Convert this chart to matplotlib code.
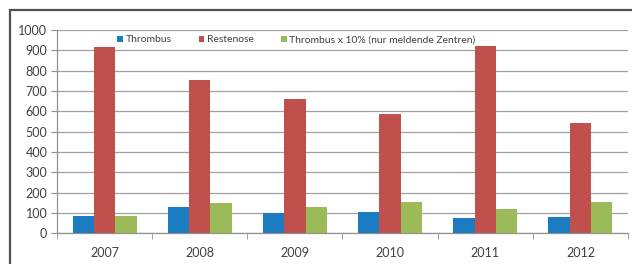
import matplotlib
matplotlib.use("Agg")
import matplotlib.pyplot as plt
import numpy as np
from matplotlib.patches import Rectangle

years = ["2007", "2008", "2009", "2010", "2011", "2012"]
thrombus = [84, 129, 101, 107, 75, 81]
restenose = [914, 752, 661, 586, 922, 543]
thrombus10 = [86, 150, 129, 153, 121, 155]
series_names = ["Thrombus", "Restenose", "Thrombus x 10% (nur meldende Zentren)"]
colors = ["#1B7CC2", "#C0504D", "#9BBB59"]

plt.rcParams['font.family'] = ['Lato', 'DejaVu Sans']

W, H = 632, 264
fig = plt.figure(figsize=(W / 100, H / 100), dpi=100)
ax = fig.add_axes([57 / W, 1 - 233.3 / H, (628 - 57) / W, (233.3 - 30) / H])

# outer frame
fig.patches.append(Rectangle((9.5 / W, -0.1), 1.2, 1 - 9.5 / H + 0.1, transform=fig.transFigure,
                             fill=False, edgecolor="#505050", linewidth=1.6, zorder=0))

x = np.arange(len(years))
bw = 0.224
for i, (vals, name, c) in enumerate(zip([thrombus, restenose, thrombus10], series_names, colors)):
    ax.bar(x + (i - 1) * bw, vals, width=bw, color=c, label=name, zorder=3)

ax.set_xlim(-0.5, len(years) - 0.5)
ax.set_ylim(0, 1000)
ax.set_yticks(range(0, 1001, 100))
ax.set_xticks(x)
ax.set_xticklabels(years)
ax.set_xticks(np.arange(-0.5, len(years), 1), minor=True)
ax.tick_params(axis='x', which='major', length=0, pad=10, labelsize=9, labelcolor="#404040")
ax.tick_params(axis='x', which='minor', length=4, color="#909090", direction='out')
ax.tick_params(axis='y', length=4, color="#909090", labelsize=9, labelcolor="#404040", pad=3)
ax.grid(axis='y', color="#A0A0A0", linewidth=0.9, zorder=0)
for s in ["top", "right"]:
    ax.spines[s].set_visible(False)
for s in ["left", "bottom"]:
    ax.spines[s].set_color("#909090")
    ax.spines[s].set_linewidth(0.9)

leg = ax.legend(loc="center", bbox_to_anchor=(0.419, 0.951), ncol=3, frameon=False,
                fontsize=7.5, handlelength=0.55, handleheight=0.55, handletextpad=0.25,
                columnspacing=2.6, labelcolor="#404040")

fig.savefig("out.png", dpi=100)
